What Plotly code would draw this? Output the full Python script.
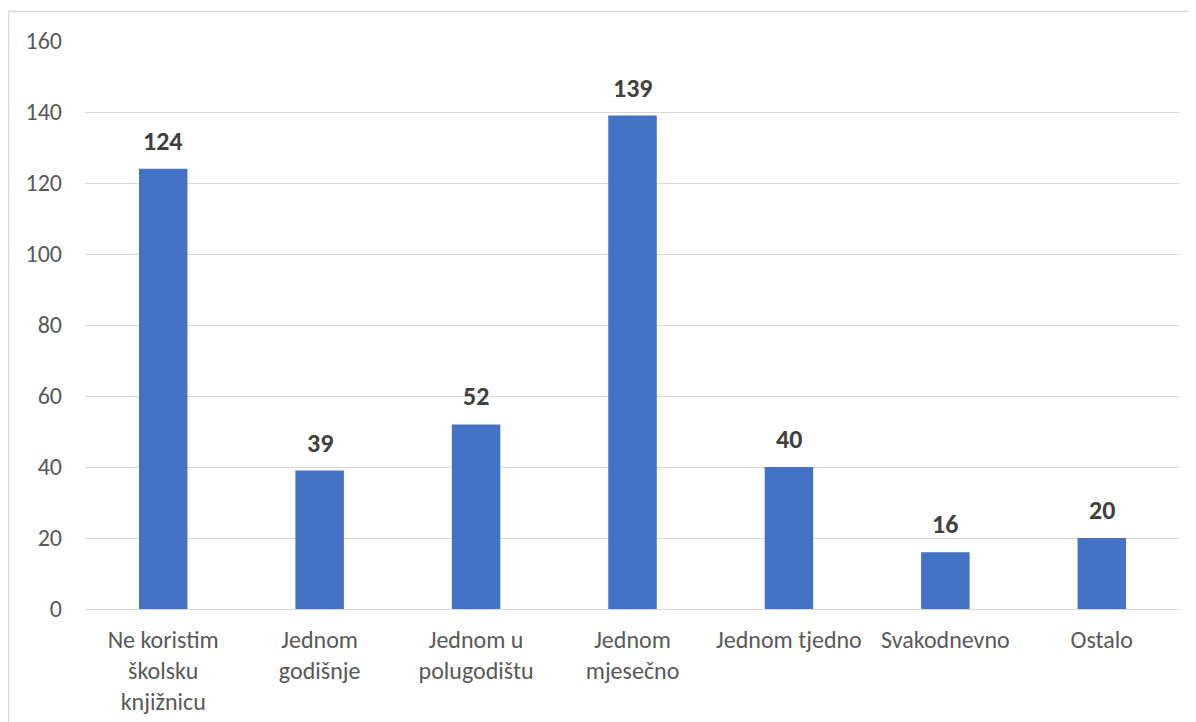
import plotly.graph_objects as go

categories = ["Ne koristim<br>školsku<br>knjižnicu", "Jednom<br>godišnje", "Jednom u<br>polugodištu",
              "Jednom<br>mjesečno", "Jednom tjedno", "Svakodnevno", "Ostalo"]
values = [124, 39, 52, 139, 40, 16, 20]
y_ticks = [0, 20, 40, 60, 80, 100, 120, 140, 160]

FONT = "Carlito, Calibri, Lato, sans-serif"

fig = go.Figure(go.Bar(
    x=categories, y=values,
    marker=dict(color="#4472C4", line=dict(width=0)),
    cliponaxis=False,
    hoverinfo="x+y",
))

for c, v in zip(categories, values):
    fig.add_annotation(x=c, y=v, text=f"<b>{v}</b>", showarrow=False,
                       yanchor="bottom", yshift=10,
                       font=dict(family=FONT, size=26, color="#404040"))

fig.update_layout(
    width=1188, height=714,
    margin=dict(l=77, r=16, t=33, b=113, autoexpand=False),
    plot_bgcolor="white", paper_bgcolor="white",
    bargap=0.69,
    showlegend=False,
    font=dict(family=FONT, size=24, color="#595959"),
    xaxis=dict(showline=False, ticks="", tickfont=dict(size=24, color="#595959"),
               ticklabelstandoff=14, automargin=False),
    yaxis=dict(range=[0, 160], tickvals=y_ticks, showgrid=True, gridcolor="#D9D9D9",
               gridwidth=1, zeroline=True, zerolinecolor="#D9D9D9", zerolinewidth=1,
               ticks="", tickfont=dict(size=24, color="#595959"), ticklabelstandoff=22,
               automargin=False),
    shapes=[dict(type="rect", xref="paper", yref="paper",
                 x0=-0.0699, x1=1.05, y0=-0.3, y1=1.0519,
                 line=dict(color="#D9D9D9", width=1.5), fillcolor="rgba(0,0,0,0)",
                 layer="below")],
)

fig.write_html("out.html")
